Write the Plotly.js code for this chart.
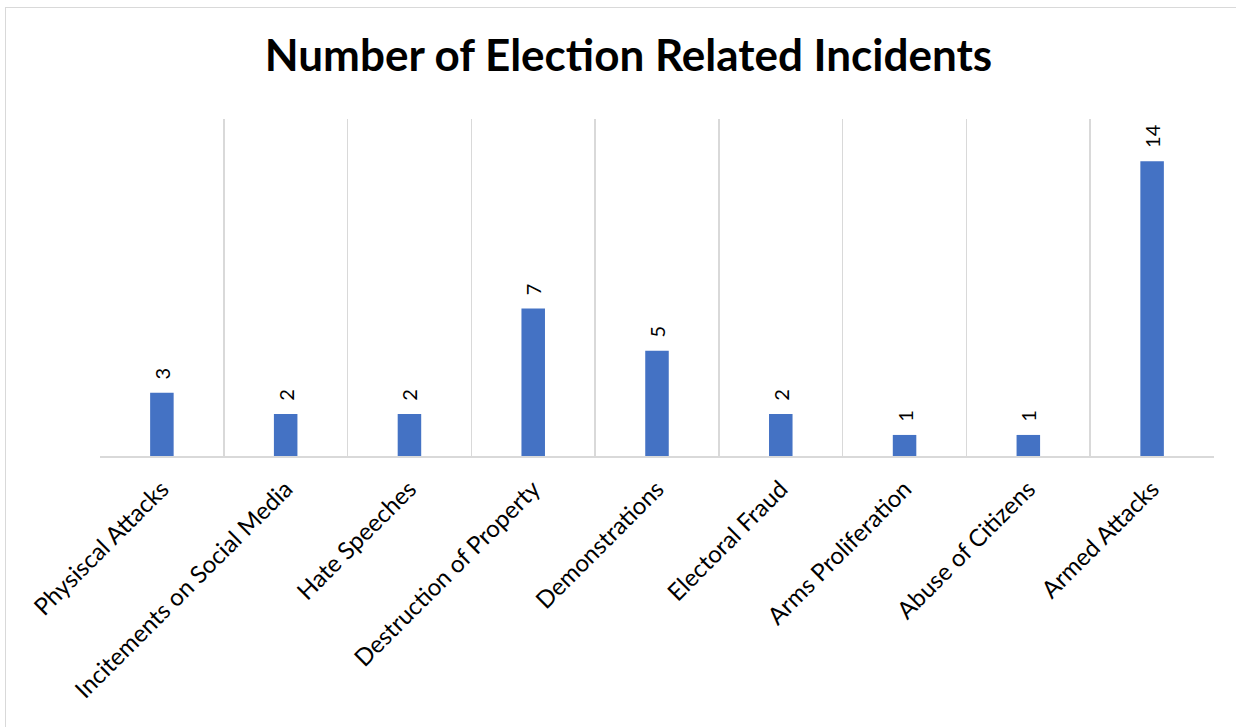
<!DOCTYPE html>
<html><head><meta charset="utf-8">
<script src="https://cdn.plot.ly/plotly-3.0.1.min.js"></script>
<style>
html,body{margin:0;padding:0;background:#fff;overflow:hidden;}
#chart{position:absolute;left:5px;top:7px;width:1240px;height:730px;border-left:1.5px solid #d9d9d9;border-top:1.5px solid #d9d9d9;}
</style></head>
<body><div id="chart"></div>
<script>
const categories = ["Physiscal Attacks","Incitements on Social Media","Hate Speeches","Destruction of Property","Demonstrations","Electoral Fraud","Arms Proliferation","Abuse of Citizens","Armed Attacks"];
const incidents = [3,2,2,7,5,2,1,1,14];

const trace = {
  type:'bar', x:categories, y:incidents,
  marker:{color:'#4472C4'},
  width:0.19,
  text:incidents.map(v => '\u00A0\u00A0' + v), textposition:'outside', textangle:-90,
  constraintext:'none',
  textfont:{family:'Lato, "Open Sans", sans-serif', size:20, color:'#000'},
  cliponaxis:false, hoverinfo:'none'
};
const layout = {
  width:1240, height:730,
  margin:{l:94,r:32,t:111,b:282},
  paper_bgcolor:'#fff', plot_bgcolor:'#fff',
  title:{text:'<b>Number of Election Related Incidents</b>', x:0.502, xanchor:'center', y:0.935, yanchor:'middle',
         font:{family:'Lato, "Open Sans", sans-serif', size:44, color:'#000'}},
  xaxis:{type:'category', tickson:'boundaries', showgrid:true, gridcolor:'#d9d9d9', gridwidth:1.5,
         ticks:'', tickangle:-45, showline:true, linecolor:'#d9d9d9', linewidth:1.5,
         ticklabelstandoff:8,
         tickfont:{family:'Lato, "Open Sans", sans-serif', size:24, color:'#000'}},
  yaxis:{range:[0,16], visible:false, showgrid:false, zeroline:false},
  showlegend:false
};
Plotly.newPlot('chart',[trace],layout,{displayModeBar:false,staticPlot:true});
</script></body></html>
